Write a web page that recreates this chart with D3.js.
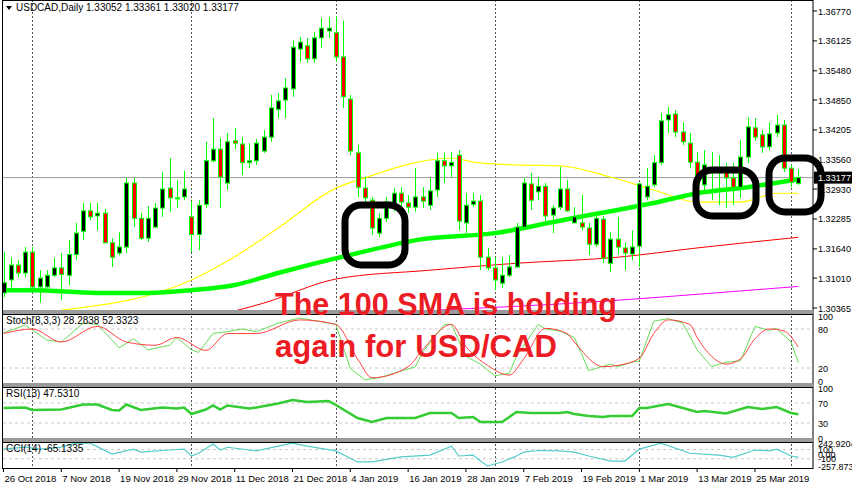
<!DOCTYPE html>
<html><head><meta charset="utf-8">
<script src="https://cdn.jsdelivr.net/npm/d3@7"></script>
<style>body{margin:0;background:#fff}svg{display:block}text{font-family:"Liberation Sans",Arial,sans-serif}</style>
</head><body><svg id="c" width="852" height="485"></svg>
<script>
const opens=[1.3069,1.3097,1.3129,1.3112,1.3157,1.3082,1.3082,1.3107,1.3123,1.3107,1.3152,1.3202,1.3246,1.3235,1.3241,1.3177,1.3155,1.3168,1.3306,1.3230,1.3187,1.3211,1.3252,1.3295,1.3272,1.3276,1.3233,1.3195,1.3260,1.3354,1.3379,1.3306,1.3397,1.3390,1.3350,1.3354,1.3375,1.3405,1.3465,1.3485,1.3509,1.3595,1.3602,1.3574,1.3619,1.3634,1.3630,1.3578,1.3487,1.3371,1.3295,1.3269,1.3198,1.3230,1.3258,1.3284,1.3263,1.3254,1.3276,1.3258,1.3291,1.3354,1.3343,1.3366,1.3220,1.3260,1.3267,1.3146,1.3123,1.3090,1.3107,1.3125,1.3211,1.3304,1.3287,1.3299,1.3237,1.3254,1.3293,1.3220,1.3220,1.3209,1.3174,1.3228,1.3133,1.3185,1.3166,1.3153,1.3170,1.3276,1.3302,1.3350,1.3442,1.3455,1.3416,1.3392,1.3351,1.3302,1.3328,1.3328,1.3338,1.3317,1.3297,1.3362,1.3425,1.3410,1.3384,1.3414,1.3431,1.3338,1.33052];
const highs=[1.3157,1.3146,1.3140,1.3168,1.3168,1.3118,1.3118,1.3144,1.3155,1.3183,1.3220,1.3263,1.3263,1.3263,1.3250,1.3187,1.3200,1.3317,1.3317,1.3242,1.3256,1.3263,1.3330,1.3360,1.3312,1.3332,1.3267,1.3269,1.3395,1.3446,1.3403,1.3414,1.3425,1.3405,1.3392,1.3401,1.3420,1.3496,1.3500,1.3532,1.3614,1.3621,1.3619,1.3632,1.3662,1.3664,1.3666,1.3656,1.3496,1.3388,1.3319,1.3276,1.3241,1.3276,1.3295,1.3297,1.3280,1.3338,1.3297,1.3317,1.3371,1.3371,1.3373,1.3377,1.3284,1.3284,1.3280,1.3166,1.3146,1.3146,1.3151,1.3220,1.3317,1.3328,1.3319,1.3306,1.3258,1.3341,1.3312,1.3254,1.3280,1.3220,1.3244,1.3235,1.3200,1.3233,1.3177,1.3204,1.3306,1.3338,1.3366,1.3457,1.3470,1.3463,1.3437,1.3414,1.3373,1.3377,1.3373,1.3366,1.3349,1.3349,1.3399,1.3448,1.3446,1.3420,1.3437,1.3453,1.3442,1.3345,1.33361];
const lows=[1.3060,1.3080,1.3103,1.3103,1.3075,1.3048,1.3080,1.3103,1.3054,1.3086,1.3140,1.3183,1.3226,1.3204,1.3177,1.3125,1.3150,1.3155,1.3211,1.3183,1.3179,1.3209,1.3233,1.3244,1.3252,1.3269,1.3157,1.3161,1.3252,1.3350,1.3252,1.3291,1.3379,1.3323,1.3338,1.3345,1.3371,1.3395,1.3446,1.3446,1.3492,1.3567,1.3565,1.3565,1.3597,1.3619,1.3567,1.3468,1.3366,1.3276,1.3263,1.3194,1.3189,1.3222,1.3244,1.3244,1.3241,1.3244,1.3252,1.3248,1.3276,1.3306,1.3319,1.3204,1.3198,1.3254,1.3118,1.3118,1.3075,1.3080,1.3103,1.3123,1.3209,1.3248,1.3269,1.3220,1.3198,1.3248,1.3244,1.3220,1.3204,1.3151,1.3168,1.3133,1.3114,1.3151,1.3118,1.3140,1.3125,1.3269,1.3297,1.3345,1.3414,1.3405,1.3388,1.3338,1.3291,1.3291,1.3269,1.3258,1.3252,1.3258,1.3274,1.3349,1.3397,1.3371,1.3377,1.3405,1.3330,1.3297,1.33020];
const closes=[1.3091,1.3129,1.3112,1.3157,1.3082,1.3101,1.3107,1.3123,1.3109,1.3152,1.3198,1.3246,1.3233,1.3241,1.3177,1.3146,1.3168,1.3306,1.3230,1.3187,1.3230,1.3252,1.3293,1.3274,1.3274,1.3293,1.3195,1.3258,1.3354,1.3379,1.3319,1.3395,1.3392,1.3350,1.3354,1.3392,1.3405,1.3468,1.3483,1.3511,1.3599,1.3610,1.3574,1.3619,1.3640,1.3640,1.3578,1.3492,1.3375,1.3297,1.3274,1.3209,1.3230,1.3265,1.3284,1.3265,1.3254,1.3276,1.3267,1.3289,1.3354,1.3343,1.3350,1.3224,1.3258,1.3267,1.3146,1.3123,1.3097,1.3107,1.3125,1.3211,1.3306,1.3269,1.3299,1.3235,1.3252,1.3293,1.3246,1.3233,1.3211,1.3174,1.3230,1.3144,1.3185,1.3168,1.3155,1.3168,1.3304,1.3299,1.3350,1.3440,1.3453,1.3416,1.3395,1.3351,1.3302,1.3345,1.3338,1.3338,1.3317,1.3297,1.3362,1.3427,1.3405,1.3384,1.3412,1.3431,1.3338,1.3308,1.33177];

const sma50=[[8,1.3032],[26,1.3097],[32,1.3147],[38,1.3209],[46,1.3295],[50,1.3317],[57,1.3350],[62,1.3360],[65,1.3351],[71,1.3345],[77,1.3343],[84,1.3319],[90,1.3291],[96,1.3265],[102,1.3265],[107,1.3284],[110,1.3284]];
const sma100=[[0,1.3075],[4,1.3075],[13,1.3069],[20,1.3069],[26,1.3075],[32,1.3086],[38,1.3112],[48,1.3151],[58,1.3185],[68,1.3198],[78,1.3228],[85,1.3248],[90,1.3263],[96,1.3284],[103,1.3297],[110,1.3314]];
const sma200=[[32,1.3030],[36,1.3047],[46,1.3099],[59,1.3118],[71,1.3133],[85,1.3146],[96,1.3166],[110,1.3189]];
const sma365=[[60,1.3032],[83,1.3051],[96,1.3066],[110,1.3083]];

const stochK=[[0,74],[3,86],[6,63],[8,60],[11,89],[13,87],[16,51],[18,65],[20,48],[23,55],[24,67],[26,48],[27,44],[29,73],[31,76],[33,80],[35,76],[38,89],[41,97],[46,87],[48,19],[50,2],[52,5],[57,22],[58,44],[61,87],[62,87],[64,38],[66,26],[68,8],[70,12],[71,38],[74,87],[75,80],[77,77],[79,67],[81,16],[84,26],[85,22],[87,29],[88,31],[90,92],[92,96],[94,89],[96,48],[98,22],[100,29],[102,31],[104,84],[106,78],[107,81],[109,60],[110,28.28]];
const stochD=[[0,73],[4,80],[8,60],[13,84],[17,60],[21,55],[24,67],[28,47],[31,73],[35,73],[41,94],[46,87],[49,34],[51,5],[56,22],[58,48],[62,87],[64,53],[67,24],[70,9],[72,34],[75,81],[78,73],[79,60],[83,22],[85,24],[88,35],[90,73],[92,94],[95,87],[96,67],[98,38],[100,26],[102,34],[104,65],[106,80],[108,77],[110,52.33]];
const rsi=[[0,60],[3,61],[4,56],[8,57],[11,67],[13,67],[15,56],[16,55],[17,67],[19,56],[22,61],[24,59],[25,61],[26,48],[28,57],[29,65],[30,57],[31,65],[34,59],[35,61],[38,69],[40,76],[42,72],[45,74],[46,66],[49,40],[51,32],[53,40],[57,40],[59,50],[62,50],[63,40],[65,42],[66,32],[69,32],[71,52],[73,50],[75,50],[77,50],[78,52],[79,48],[81,44],[83,42],[84,44],[87,44],[88,60],[89,60],[92,68],[93,64],[96,52],[97,54],[100,49],[103,62],[105,58],[107,62],[109,50],[110,47.53]];
const cci=[[0,110],[3,154],[5,110],[8,154],[10,240],[12,240],[15,0],[18,110],[19,45],[23,90],[25,110],[26,-40],[27,20],[29,220],[30,90],[31,150],[35,70],[38,175],[40,240],[42,175],[46,70],[49,-170],[51,-170],[55,-60],[59,-20],[62,175],[63,-40],[65,-20],[66,-150],[67,-257],[69,-170],[71,-40],[72,45],[74,80],[77,70],[79,45],[81,-40],[84,-150],[86,-150],[88,110],[91,240],[95,20],[99,-20],[101,-70],[104,90],[106,70],[107,110],[109,-40],[110,-65.13]];

const priceTicks=[1.36770,1.36125,1.35480,1.34850,1.34205,1.33560,1.32930,1.32285,1.31640,1.31010,1.30365];
const dateLabels=[[0,"26 Oct 2018"],[8,"7 Nov 2018"],[16,"19 Nov 2018"],[24,"29 Nov 2018"],[32,"11 Dec 2018"],[40,"21 Dec 2018"],[48,"4 Jan 2019"],[56,"16 Jan 2019"],[64,"28 Jan 2019"],[72,"7 Feb 2019"],[80,"19 Feb 2019"],[88,"1 Mar 2019"],[96,"13 Mar 2019"],[104,"25 Mar 2019"]];
const monthStarts=[4,26,46,68,88,109];
const header="USDCAD,Daily  1.33052 1.33361 1.33020 1.33177";

const svg=d3.select("#c");
const R=813;
const x=d3.scaleLinear().domain([0,110]).range([3.5,798.3]);
const y=d3.scaleLinear().domain([1.30365,1.36770]).range([308,11]);
const ys=d3.scaleLinear().domain([0,100]).range([381,316]);
const yr=d3.scaleLinear().domain([0,100]).range([438,388]);
const yc=d3.scaleLinear().domain([-257.8739,242.9204]).range([466,443]);

const defs=svg.append("defs");
[["cm",1,311],["cs",314,383],["cr",386,439],["cc",442,467]].forEach(([id,a,b])=>defs.append("clipPath").attr("id",id).append("rect").attr("x",3).attr("y",a).attr("width",R-3).attr("height",b-a));

function hline(yy){svg.append("line").attr("x1",3).attr("x2",R).attr("y1",yy).attr("y2",yy).attr("stroke","#c8c8c8").attr("stroke-dasharray","3,3");}
[ys(80),ys(20),yr(70),yr(30),yc(100),yc(-100)].forEach(hline);
monthStarts.forEach(i=>svg.append("line").attr("x1",Math.round(x(i))+.5).attr("x2",Math.round(x(i))+.5).attr("y1",0).attr("y2",468).attr("stroke","#555").attr("stroke-dasharray","2,2"));
svg.append("line").attr("x1",3).attr("x2",R).attr("y1",y(closes[110])).attr("y2",y(closes[110])).attr("stroke","#9a9a9a");

const main=svg.append("g").attr("clip-path","url(#cm)");
const ln=(sc)=>d3.line().x(d=>x(d[0])).y(d=>sc(d[1])).curve(d3.curveMonotoneX);
main.append("path").attr("d",ln(y)(sma50)).attr("fill","none").attr("stroke","#ffff00").attr("stroke-width",1.2);
main.append("path").attr("d",ln(y)(sma200)).attr("fill","none").attr("stroke","#ff0000").attr("stroke-width",1);
main.append("path").attr("d",ln(y)(sma365)).attr("fill","none").attr("stroke","#ff00ff").attr("stroke-width",1);
main.append("path").attr("d",ln(y)(sma100)).attr("fill","none").attr("stroke","#00ff00").attr("stroke-width",4.5);

const idx=d3.range(opens.length);
main.selectAll(".w").data(idx).join("line").attr("x1",i=>Math.round(x(i))+.5).attr("x2",i=>Math.round(x(i))+.5)
 .attr("y1",i=>y(highs[i])).attr("y2",i=>y(lows[i])).attr("stroke","#00ff00");
main.selectAll(".b").data(idx).join("rect").attr("x",i=>Math.round(x(i))-1.5).attr("width",4)
 .attr("y",i=>y(Math.max(opens[i],closes[i]))).attr("height",i=>Math.max(1,Math.abs(y(opens[i])-y(closes[i]))))
 .attr("fill",i=>closes[i]>=opens[i]?"#000":"#ff0000").attr("stroke","#00ff00").attr("stroke-width",1);

[[345,205,60,60],[696,170,60,46],[769,158,52,54]].forEach(([a,b,w,h])=>svg.append("rect").attr("x",a).attr("y",b).attr("width",w).attr("height",h).attr("rx",16).attr("fill","none").attr("stroke","#000").attr("stroke-width",7));

const gs=svg.append("g").attr("clip-path","url(#cs)");
gs.append("path").attr("d",d3.line().x(d=>x(d[0])).y(d=>ys(d[1]))(stochK)).attr("fill","none").attr("stroke","#66dd55");
gs.append("path").attr("d",d3.line().x(d=>x(d[0])).y(d=>ys(d[1])).curve(d3.curveMonotoneX)(stochD)).attr("fill","none").attr("stroke","#ff4040");
svg.append("g").attr("clip-path","url(#cr)").append("path").attr("d",d3.line().x(d=>x(d[0])).y(d=>yr(d[1]))(rsi)).attr("fill","none").attr("stroke","#33cc33").attr("stroke-width",2.5);
svg.append("g").attr("clip-path","url(#cc)").append("path").attr("d",d3.line().x(d=>x(d[0])).y(d=>yc(d[1]))(cci)).attr("fill","none").attr("stroke","#55cccc").attr("stroke-width",1.2);

svg.append("rect").attr("x",2.5).attr("y",0.5).attr("width",R-2.5).attr("height",468).attr("fill","none").attr("stroke","#000");
[312,385,440].forEach(v=>{svg.append("rect").attr("x",3).attr("y",v-2).attr("width",R-3).attr("height",4).attr("fill","#9a9a9a");svg.append("line").attr("x1",3).attr("x2",R).attr("y1",v+2.5).attr("y2",v+2.5).attr("stroke","#000");});

const ax=svg.append("g").attr("font-size",9).attr("fill","#000");
priceTicks.forEach(p=>{ax.append("line").attr("x1",R).attr("x2",R+4).attr("y1",y(p)).attr("y2",y(p)).attr("stroke","#000");ax.append("text").attr("x",R+5).attr("y",y(p)+3.5).attr("textLength",33).attr("lengthAdjust","spacingAndGlyphs").text(p.toFixed(5));});
ax.append("rect").attr("x",R+1).attr("y",y(closes[110])-6).attr("width",39).attr("height",12).attr("fill","#000");
ax.append("text").attr("x",R+5).attr("y",y(closes[110])+3.5).attr("fill","#fff").attr("textLength",33).attr("lengthAdjust","spacingAndGlyphs").text(closes[110].toFixed(5));
[[ys,[100,80,20,0]],[yr,[100,70,30,0]]].forEach(([s,t])=>t.forEach(v=>ax.append("text").attr("x",R+5).attr("y",s(v)+3.5).text(v)));
[[242.9204,"242.9204"],[100,"100"],[0,"0.00"],[-100,"-100"],[-257.8739,"-257.8739"]].forEach(([v,t])=>ax.append("text").attr("x",R+5).attr("y",yc(v)+3.5).text(t));
dateLabels.forEach(([i,t])=>{ax.append("line").attr("x1",x(i)).attr("x2",x(i)).attr("y1",468).attr("y2",472).attr("stroke","#000");ax.append("text").attr("x",x(i)+1).attr("y",482).attr("font-size",9.5).text(t);});

const lb=svg.append("g").attr("font-size",10).attr("fill","#000");
lb.append("path").attr("d","M6,6 L12,6 L9,10 Z").attr("fill","#000");
lb.append("text").attr("x",16).attr("y",11).text(header);
lb.append("text").attr("x",6).attr("y",324).text("Stoch(8,3,3) 28.2838 52.3323");
lb.append("text").attr("x",6).attr("y",397).text("RSI(13) 47.5310");
lb.append("text").attr("x",6).attr("y",452).text("CCI(14) -65.1335");

const an=svg.append("g").attr("font-family","Roboto, 'Liberation Sans', sans-serif").attr("font-weight","bold").attr("font-size",32).attr("fill","#ec1c24");
an.append("text").attr("x",275).attr("y",315).attr("textLength",342).attr("lengthAdjust","spacingAndGlyphs").text("The 100 SMA is holding");
an.append("text").attr("x",275).attr("y",357).attr("textLength",282).attr("lengthAdjust","spacingAndGlyphs").text("again for USD/CAD");
</script></body></html>
